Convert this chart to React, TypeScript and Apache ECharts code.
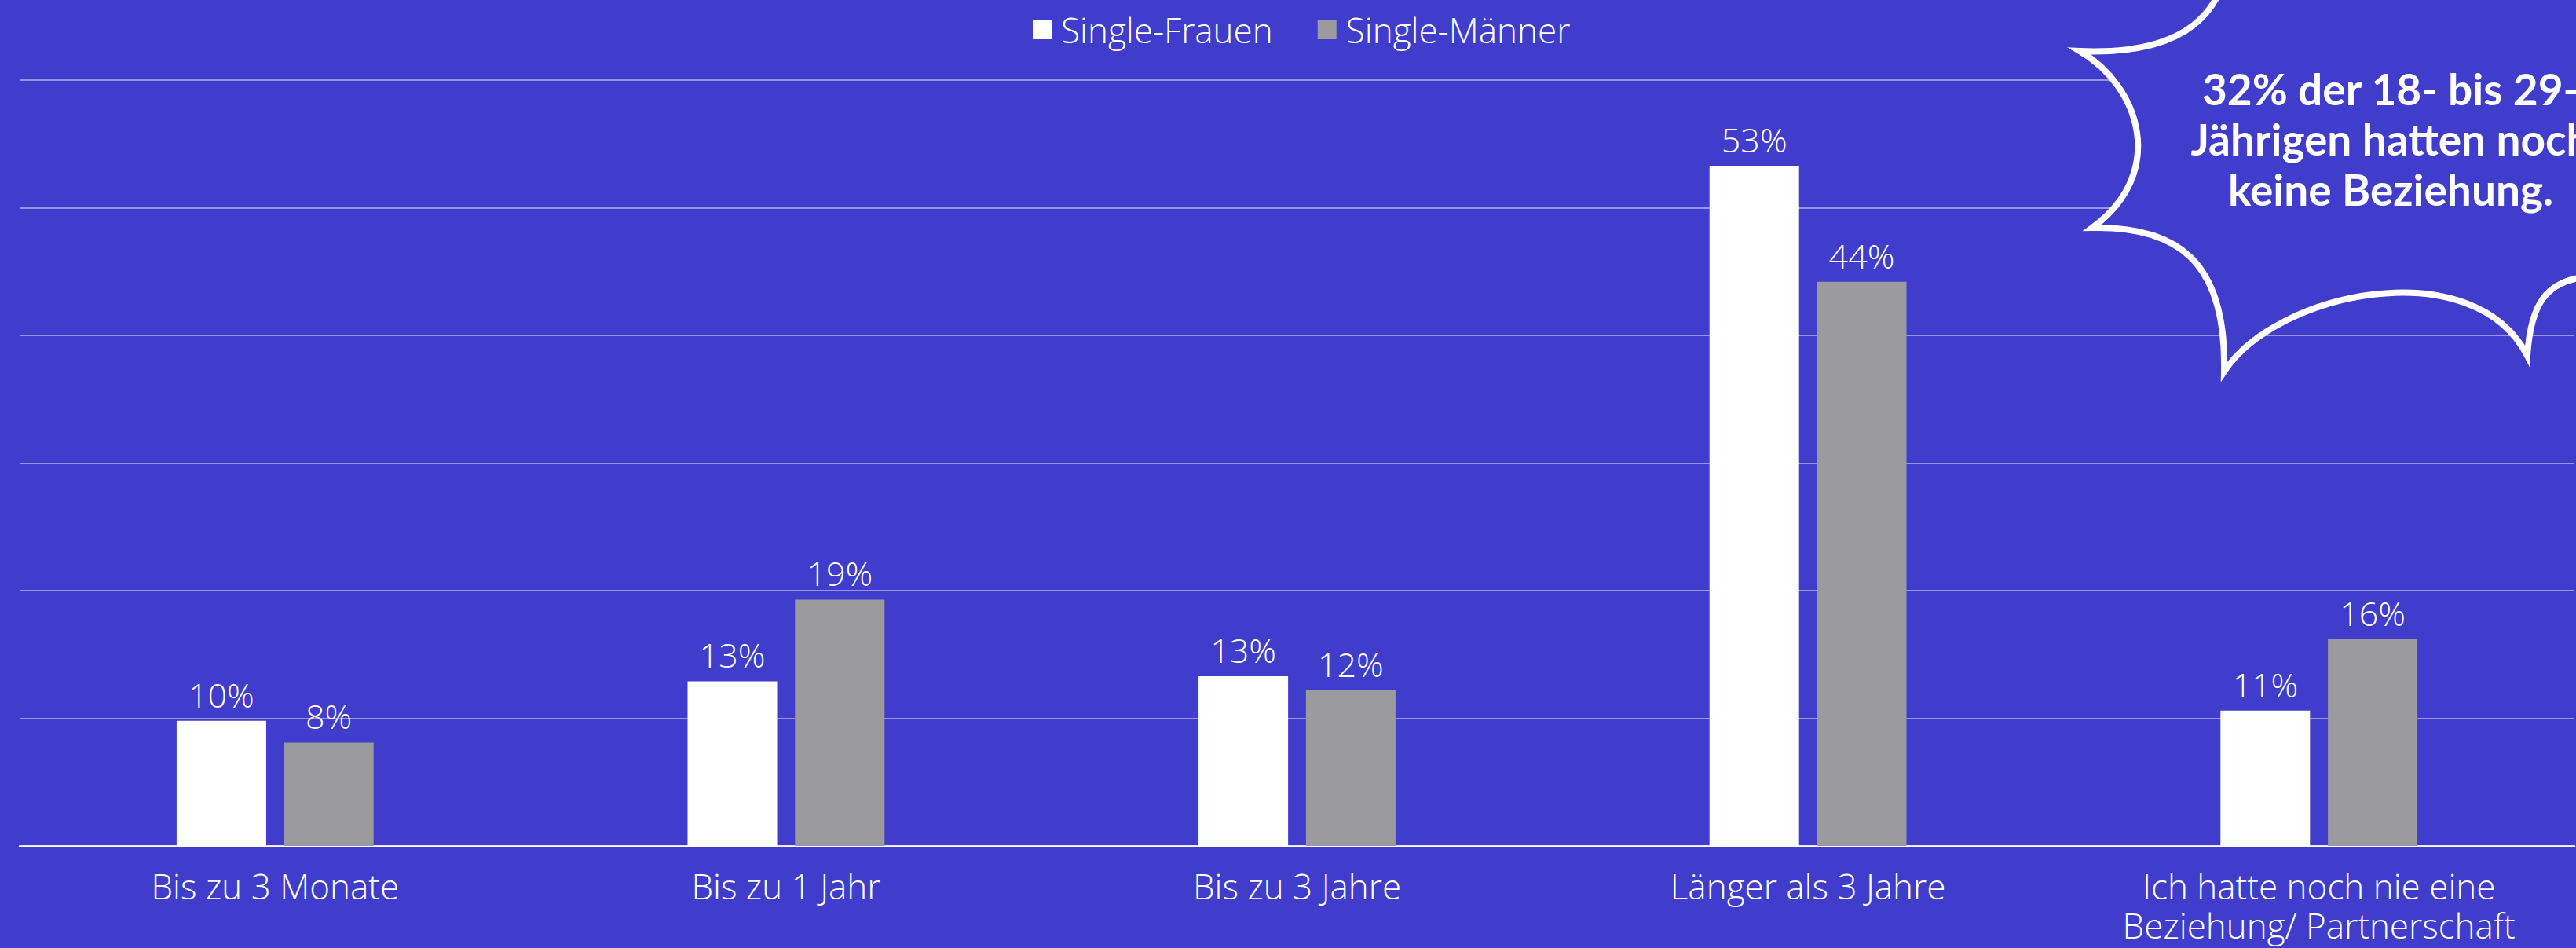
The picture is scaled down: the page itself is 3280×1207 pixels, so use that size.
import React, { useEffect, useRef } from "react";
import * as echarts from "echarts";

const categories = [
  "Bis zu 3 Monate",
  "Bis zu 1 Jahr",
  "Bis zu 3 Jahre",
  "Länger als 3 Jahre",
  "Ich hatte noch nie eine\nBeziehung/ Partnerschaft",
];
const seriesNames = ["Single-Frauen", "Single-Männer"];
const frauen = [9.8, 12.9, 13.3, 53.3, 10.6];
const maenner = [8.1, 19.3, 12.2, 44.2, 16.2];
const yMin = 0;
const yMax = 60;
const yInterval = 10;
const bubbleLines = ["32% der 18- bis 29-", "Jährigen hatten noch", "keine Beziehung."];

const BG = "#403ccc";
const GRAY = "#9b9a9f";
const FONT = "'Open Sans', Lato, sans-serif";

const BUBBLE_D =
  "M 2828 -15 C 2800 55 2720 68 2648 65 C 2725 110 2760 220 2664 290 C 2770 288 2835 330 2832 473 C 2900 370 3150 320 3218 453 C 3222 390 3240 355 3300 352 L 3300 -15 Z";

let registered = false;
function ensureShape() {
  if (registered) return;
  echarts.graphic.registerShape("bubble", echarts.graphic.extendPath(BUBBLE_D, {}) as any);
  registered = true;
}

export default function App() {
  const ref = useRef<HTMLDivElement>(null);
  useEffect(() => {
    if (!ref.current) return;
    ensureShape();
    const chart = echarts.init(ref.current, undefined, { renderer: "svg" });
    const labelStyle = {
      show: true,
      position: "top" as const,
      distance: 12,
      color: "#ffffff",
      fontSize: 43,
      fontFamily: FONT,
      fontWeight: 300 as any,
      formatter: (p: any) => Math.round(p.value) + "%",
    };
    chart.setOption({
      animation: false,
      backgroundColor: BG,
      legend: {
        data: seriesNames,
        left: 1310,
        top: 11,
        icon: "rect",
        itemWidth: 24,
        itemHeight: 24,
        itemGap: 57,
        textStyle: {
          color: "#ffffff",
          fontSize: 44,
          fontFamily: FONT,
          fontWeight: 300,
          padding: [0, 0, 0, 7],
        },
      },
      grid: { left: 25, right: 2, top: 102, bottom: 130, containLabel: false },
      xAxis: {
        type: "category",
        data: categories,
        axisLine: { show: true, lineStyle: { color: "#ffffff", width: 2.5 } },
        axisTick: { show: false },
        axisLabel: {
          interval: 0,
          color: "#ffffff",
          fontSize: 44,
          lineHeight: 50,
          fontFamily: FONT,
          fontWeight: 300,
          margin: 26,
        },
      },
      yAxis: {
        type: "value",
        min: yMin,
        max: yMax,
        interval: yInterval,
        axisLabel: { show: false },
        axisLine: { show: false },
        axisTick: { show: false },
        splitLine: { lineStyle: { color: "rgba(255,255,255,0.45)", width: 2 } },
      },
      series: [
        {
          name: seriesNames[0],
          type: "bar",
          data: frauen,
          barWidth: 114,
          barGap: "20%",
          itemStyle: { color: "#ffffff" },
          label: labelStyle,
        },
        {
          name: seriesNames[1],
          type: "bar",
          data: maenner,
          barWidth: 114,
          barGap: "20%",
          itemStyle: { color: GRAY },
          label: labelStyle,
        },
      ],
      graphic: [
        {
          type: "bubble",
          x: 0,
          y: 0,
          z: 100,
          silent: true,
          style: {
            fill: BG,
            stroke: "#ffffff",
            lineWidth: 8,
            lineJoin: "miter",
            miterLimit: 6,
          },
        },
        {
          type: "text",
          x: 3044,
          y: 177,
          z: 101,
          silent: true,
          style: {
            text: bubbleLines.join("\n"),
            fill: "#ffffff",
            font: "bold 55px Lato, 'Open Sans', sans-serif",
            lineHeight: 64,
            align: "center",
            verticalAlign: "middle",
          },
        },
      ],
    });
    return () => chart.dispose();
  }, []);
  return (
    <div
      ref={ref}
      style={{ position: "fixed", left: 0, top: 0, width: 3280, height: 1207, background: BG }}
    />
  );
}
